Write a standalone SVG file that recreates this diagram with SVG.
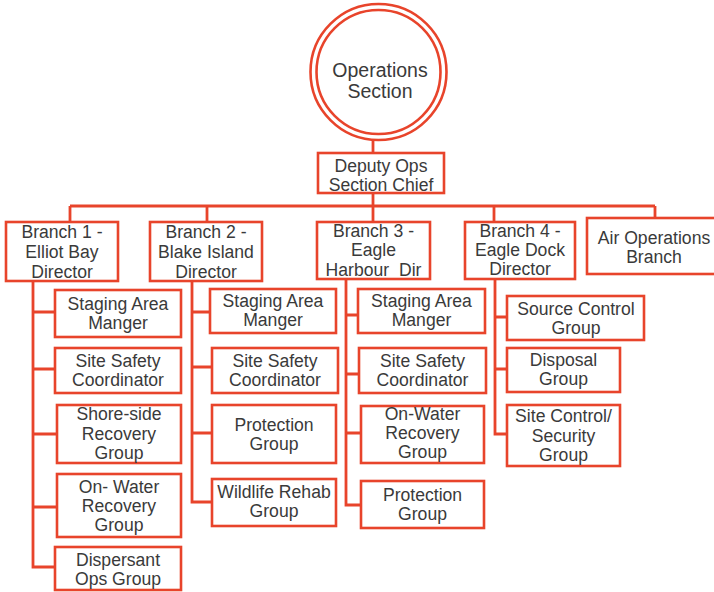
<svg xmlns="http://www.w3.org/2000/svg" width="714" height="592" viewBox="0 0 714 592">
  <style>
    .box { fill: #ffffff; stroke: #e8442b; stroke-width: 2.6; }
    .ring { fill: none; stroke: #e8442b; stroke-width: 2.6; }
    .wire { fill: none; stroke: #e8442b; stroke-width: 2.8; }
    text { font-family: "Liberation Sans", Arial, sans-serif; font-size: 17.6px; fill: #3a3a3a; text-anchor: middle; }
    .big { font-size: 19.5px; }
  </style>
  <rect width="714" height="592" fill="#ffffff"/>

  <!-- connectors -->
  <g id="connectors">
    <line class="wire" x1="373" y1="139" x2="373" y2="153"/>
    <line class="wire" x1="373" y1="193" x2="373" y2="222"/>
    <line class="wire" x1="70" y1="206" x2="655" y2="206"/>
    <line class="wire" x1="70" y1="206" x2="70" y2="222"/>
    <line class="wire" x1="207" y1="206" x2="207" y2="222"/>
    <line class="wire" x1="494" y1="206" x2="494" y2="222"/>
    <line class="wire" x1="655" y1="206" x2="655" y2="218"/>

    <!-- branch 1 spine -->
    <path class="wire" d="M33 281 V567 H55 M33 312 H55 M33 369 H55 M33 434 H57 M33 507 H57"/>
    <!-- branch 2 spine -->
    <path class="wire" d="M192 281 V502 H212 M192 312 H210 M192 367 H212 M192 433 H212"/>
    <!-- branch 3 spine -->
    <path class="wire" d="M346 279 V505 H361 M346 315 H358 M346 374 H359 M346 433 H361"/>
    <!-- branch 4 spine -->
    <path class="wire" d="M495 279 V434 H507 M495 317 H507 M495 369 H507"/>
  </g>

  <!-- section head -->
  <g id="ops-section">
    <circle class="ring" cx="378.5" cy="72" r="68"/>
    <circle class="ring" cx="378.5" cy="72" r="62"/>
    <text class="big" x="380" y="77">Operations</text>
    <text class="big" x="380" y="98">Section</text>
  </g>

  <g id="deputy">
    <rect class="box" x="318" y="153" width="126" height="40"/>
    <text x="381" y="171.5">Deputy Ops</text>
    <text x="381" y="190.5">Section Chief</text>
  </g>

  <!-- branches -->
  <g id="branch1">
    <rect class="box" x="6" y="222" width="112" height="59"/>
    <text x="62" y="238">Branch 1 -</text>
    <text x="62" y="258">Elliot Bay</text>
    <text x="62" y="278">Director</text>
  </g>
  <g id="branch2">
    <rect class="box" x="150" y="222" width="112" height="59"/>
    <text x="206" y="238">Branch 2 -</text>
    <text x="206" y="258">Blake Island</text>
    <text x="206" y="278">Director</text>
  </g>
  <g id="branch3">
    <rect class="box" x="317" y="222" width="113" height="57"/>
    <text x="373.5" y="237">Branch 3 -</text>
    <text x="373.5" y="256">Eagle</text>
    <text x="373.5" y="276" style="white-space:pre">Harbour  Dir</text>
  </g>
  <g id="branch4">
    <rect class="box" x="465" y="222" width="110" height="57"/>
    <text x="520" y="237">Branch 4 -</text>
    <text x="520" y="256">Eagle Dock</text>
    <text x="520" y="275">Director</text>
  </g>
  <g id="air-ops">
    <rect class="box" x="587" y="218" width="140" height="56"/>
    <text x="654" y="243.5">Air Operations</text>
    <text x="654" y="262.5">Branch</text>
  </g>

  <!-- branch 1 units -->
  <g id="b1-staging">
    <rect class="box" x="55" y="290" width="126" height="47"/>
    <text x="118" y="310">Staging Area</text>
    <text x="118" y="329">Manger</text>
  </g>
  <g id="b1-safety">
    <rect class="box" x="55" y="348" width="126" height="45"/>
    <text x="118" y="367">Site Safety</text>
    <text x="118" y="386">Coordinator</text>
  </g>
  <g id="b1-shoreside">
    <rect class="box" x="57" y="405" width="124" height="58"/>
    <text x="119" y="420">Shore-side</text>
    <text x="119" y="440">Recovery</text>
    <text x="119" y="459">Group</text>
  </g>
  <g id="b1-onwater">
    <rect class="box" x="57" y="474" width="124" height="63"/>
    <text x="119" y="493">On- Water</text>
    <text x="119" y="512">Recovery</text>
    <text x="119" y="531">Group</text>
  </g>
  <g id="b1-dispersant">
    <rect class="box" x="55" y="547" width="126" height="43"/>
    <text x="118" y="566">Dispersant</text>
    <text x="118" y="585">Ops Group</text>
  </g>

  <!-- branch 2 units -->
  <g id="b2-staging">
    <rect class="box" x="210" y="289" width="126" height="44"/>
    <text x="273" y="307">Staging Area</text>
    <text x="273" y="326">Manger</text>
  </g>
  <g id="b2-safety">
    <rect class="box" x="212" y="348" width="126" height="45"/>
    <text x="275" y="367">Site Safety</text>
    <text x="275" y="386">Coordinator</text>
  </g>
  <g id="b2-protection">
    <rect class="box" x="212" y="405" width="124" height="58"/>
    <text x="274" y="430.5">Protection</text>
    <text x="274" y="449.5">Group</text>
  </g>
  <g id="b2-wildlife">
    <rect class="box" x="212" y="479" width="124" height="47"/>
    <text x="274" y="498">Wildlife Rehab</text>
    <text x="274" y="517">Group</text>
  </g>

  <!-- branch 3 units -->
  <g id="b3-staging">
    <rect class="box" x="358" y="289" width="127" height="44"/>
    <text x="421.5" y="307">Staging Area</text>
    <text x="421.5" y="326">Manger</text>
  </g>
  <g id="b3-safety">
    <rect class="box" x="359" y="348" width="127" height="45"/>
    <text x="422.5" y="367">Site Safety</text>
    <text x="422.5" y="386">Coordinator</text>
  </g>
  <g id="b3-onwater">
    <rect class="box" x="361" y="406" width="123" height="57"/>
    <text x="422.5" y="420">On-Water</text>
    <text x="422.5" y="439">Recovery</text>
    <text x="422.5" y="458">Group</text>
  </g>
  <g id="b3-protection">
    <rect class="box" x="361" y="481" width="123" height="47"/>
    <text x="422.5" y="500.5">Protection</text>
    <text x="422.5" y="519.5">Group</text>
  </g>

  <!-- branch 4 units -->
  <g id="b4-source">
    <rect class="box" x="507" y="296" width="137" height="44"/>
    <text x="576" y="314.5">Source Control</text>
    <text x="576" y="333.5">Group</text>
  </g>
  <g id="b4-disposal">
    <rect class="box" x="507" y="348" width="113" height="44"/>
    <text x="563.5" y="365.5">Disposal</text>
    <text x="563.5" y="384.5">Group</text>
  </g>
  <g id="b4-sitecontrol">
    <rect class="box" x="507" y="405" width="113" height="61"/>
    <text x="563.5" y="422">Site Control/</text>
    <text x="563.5" y="441.5">Security</text>
    <text x="563.5" y="460.5">Group</text>
  </g>
</svg>
